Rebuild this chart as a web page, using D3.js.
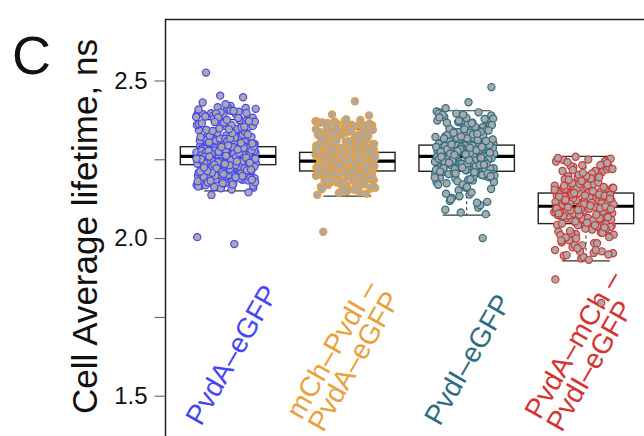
<!DOCTYPE html>
<html>
<head>
<meta charset="utf-8">
<script src="https://cdn.jsdelivr.net/npm/d3@7"></script>
<style>
  body { margin: 0; background: #fff; }
  svg { display: block; }
  text { font-family: "Liberation Sans", Arial, sans-serif; }
</style>
</head>
<body>
<svg id="chart" width="644" height="436"></svg>
<script>
// ---- data -------------------------------------------------------------
const categories = ["PvdA-eGFP", "mCh-PvdI-PvdA-eGFP", "PvdI-eGFP", "PvdA-mCh-PvdI-eGFP"];
const labelLines = [
  ["PvdA–eGFP"],
  ["mCh–PvdI –", "PvdA–eGFP"],
  ["PvdI–eGFP"],
  ["PvdA–mCh –", "PvdI–eGFP"]
];
const colors = ["#4646f4", "#eaa03a", "#2c6d82", "#d33434"];

// box summaries (ns)
const q1s      = [2.233, 2.213, 2.212, 2.046];
const medians  = [2.259, 2.244, 2.259, 2.101];
const q3s      = [2.290, 2.272, 2.295, 2.143];
const whiskLo  = [2.150, 2.133, 2.073, 1.928];
const whiskHi  = [2.376, 2.346, 2.404, 2.259];

// per-cell average lifetimes (ns)
const pvdA_eGFP = [
  2.293,2.318,2.301,2.356,2.297,2.334,2.309,2.382,2.295,2.322,2.341,2.305,2.398,2.312,2.291,2.367,2.326,2.303,2.349,2.415,2.299,2.331,2.314,2.372,
  2.307,2.292,2.345,2.338,2.321,2.406,2.296,2.361,2.316,2.389,2.302,2.327,2.352,2.294,2.311,2.378,2.336,2.298,2.419,2.324,2.306,2.363,2.343,2.393,
  2.262,2.275,2.268,2.284,2.260,2.279,2.271,2.288,2.265,2.277,2.263,2.282,2.270,2.286,2.267,2.274,2.261,2.289,2.273,2.266,2.281,2.269,2.278,2.264,
  2.285,2.272,2.276,2.283,2.262,2.280,2.267,2.287,2.270,2.274,2.264,2.279,2.268,2.283,2.261,2.276,2.272,2.288,2.266,2.281,2.263,2.277,2.285,2.269,
  2.241,2.252,2.236,2.247,2.257,2.239,2.250,2.244,2.255,2.234,2.248,2.242,2.253,2.237,2.246,2.258,2.240,2.251,2.235,2.249,2.243,2.256,2.238,2.245,
  2.254,2.241,2.250,2.236,2.247,2.257,2.239,2.252,2.244,2.234,2.255,2.248,2.242,2.253,2.237,2.246,2.258,2.240,2.251,2.235,2.249,2.243,2.256,2.238,
  2.221,2.187,2.229,2.204,2.166,2.215,2.193,2.226,2.176,2.209,2.231,2.158,2.198,2.219,2.183,2.224,2.202,2.171,2.212,2.228,2.190,2.154,2.217,2.196,
  2.207,2.179,2.223,2.162,2.213,2.200,2.230,2.185,2.211,2.168,2.225,2.194,2.205,2.174,2.218,2.227,2.188,2.160,2.214,2.201,2.222,2.181,2.208,2.232,
  2.246,2.271,2.238,2.259,2.283,2.227,2.252,2.266,2.241,2.290,2.234,2.262,2.249,2.278,2.230,2.257,2.273,2.244,2.286,2.236,
  2.255,2.268,2.240,2.280,2.250,2.264,2.232,2.276,2.247,2.260,2.288,2.238,2.253,2.270,2.243,2.282,2.229,2.258,2.267,2.245,
  2.384,2.172,2.331,2.205,2.297,2.248,2.401,2.186,2.356,2.219,2.312,2.263,2.377,2.164,2.339,2.228,2.285,2.407,2.195,2.323,
  2.241,2.369,2.178,2.304,2.255,2.391,2.211,2.346,2.233,2.279,2.412,2.168,2.328,2.201,2.359,2.268,2.396,2.183,2.315,2.246,
  2.374,2.222,2.291,2.404,2.176,2.337,2.209,2.362,2.257,2.388,2.191,2.308,2.237,2.351,2.274,2.410,2.170,2.325,2.215,2.366,
  2.250,2.381,2.199,2.300,2.231,2.343,2.286,2.399,2.180,2.319,2.207,2.371,2.261,2.393,2.189,2.334,2.226,2.358,2.277,2.413,
  2.174,2.310,2.243,2.379,2.217,2.294,2.386,2.197,2.348,2.252,2.403,2.182,2.329,2.235,2.364,2.270,2.395,2.166,2.316,2.213,
  2.353,2.289,2.408,2.193,2.340,2.239,2.375,2.224,2.302,2.383,2.177,2.333,2.259,2.397,2.203,2.321,2.281,2.368,2.185,2.345,
  2.525,2.447,2.452,2.003,1.981,2.137,2.145,2.425,2.430
];
const mCh_PvdI_PvdA_eGFP = [
  2.275,2.301,2.283,2.338,2.279,2.312,2.290,2.356,2.277,2.296,2.324,2.286,2.368,2.293,2.274,2.345,2.305,2.281,2.330,2.362,2.278,2.309,2.288,
  2.349,2.284,2.273,2.318,2.298,2.341,2.276,2.315,2.292,2.334,2.280,2.303,2.327,2.287,2.352,2.295,2.276,2.321,2.299,2.282,2.342,2.307,
  2.247,2.259,2.251,2.266,2.245,2.262,2.254,2.270,2.249,2.257,2.246,2.264,2.253,2.268,2.250,2.256,2.244,2.271,2.255,2.248,2.263,2.252,2.260,
  2.246,2.267,2.254,2.258,2.265,2.245,2.261,2.249,2.269,2.252,2.256,2.247,2.262,2.251,2.265,2.244,2.258,2.254,2.270,2.248,2.263,2.250,
  2.221,2.236,2.215,2.229,2.241,2.218,2.232,2.225,2.239,2.214,2.227,2.220,2.235,2.216,2.230,2.243,2.219,2.233,2.214,2.228,2.222,2.240,2.217,
  2.226,2.237,2.221,2.231,2.215,2.228,2.242,2.218,2.234,2.224,2.213,2.238,2.229,2.220,2.236,2.216,2.227,2.242,2.219,2.232,2.214,2.225,
  2.205,2.171,2.210,2.188,2.149,2.199,2.176,2.207,2.160,2.193,2.211,2.141,2.182,2.202,2.166,2.208,2.186,2.154,2.196,2.209,2.173,2.137,2.201,
  2.179,2.190,2.162,2.206,2.145,2.197,2.184,2.212,2.168,2.194,2.151,2.204,2.177,2.189,2.157,2.200,2.208,2.170,2.143,2.198,2.185,2.203,
  2.231,2.256,2.222,2.244,2.266,2.213,2.238,2.250,2.226,2.270,2.218,2.247,2.234,2.261,2.215,2.242,2.257,2.229,
  2.268,2.220,2.240,2.253,2.224,2.263,2.236,2.249,2.217,2.259,2.233,2.245,2.271,2.223,2.239,2.254,2.228,
  2.352,2.158,2.311,2.196,2.281,2.237,2.365,2.171,2.327,2.209,2.296,2.252,2.343,2.149,2.318,2.221,2.268,2.371,2.184,2.304,
  2.232,2.339,2.163,2.289,2.246,2.358,2.201,2.322,2.226,2.263,2.369,2.153,2.308,2.192,2.334,2.257,2.361,2.176,2.299,2.241,
  2.347,2.214,2.276,2.366,2.166,2.315,2.199,2.337,2.249,2.355,2.181,2.293,2.229,2.330,2.266,2.372,2.155,2.307,2.206,2.344,
  2.243,2.350,2.188,2.285,2.224,2.326,2.272,2.363,2.168,2.302,2.197,2.341,2.254,2.359,2.179,2.313,2.218,2.336,2.261,2.370,
  2.161,2.291,2.234,2.348,2.204,2.279,2.354,2.186,2.324,2.245,2.367,2.173,2.309,2.227,2.340,2.259,2.357,2.151,2.297,2.202,
  2.332,2.270,2.364,2.183,2.319,2.231,2.345,2.211,2.287,2.351,2.165,2.316,2.248,2.360,2.194,2.305,2.265,2.338,2.175,2.328,
  2.434,2.392,2.389,2.377,2.020,2.375
];
const pvdI_eGFP = [
  2.298,2.331,2.306,2.362,2.301,2.345,2.314,2.389,2.297,2.323,2.352,2.309,2.402,2.318,2.296,2.371,2.328,2.303,2.340,2.395,
  2.300,2.335,2.312,2.378,2.305,2.299,2.349,2.326,2.358,2.316,2.384,2.302,2.337,2.321,2.366,2.308,2.343,2.297,2.398,2.319,
  2.263,2.281,2.270,2.291,2.261,2.285,2.274,2.294,2.266,2.279,2.262,2.288,2.272,2.293,2.268,2.277,2.260,2.290,2.275,2.265,
  2.283,2.271,2.286,2.264,2.292,2.276,2.280,2.289,2.262,2.284,2.269,2.294,2.273,2.278,2.266,2.287,2.270,2.282,2.261,2.290,
  2.221,2.246,2.230,2.255,2.215,2.238,2.251,2.226,2.242,2.218,2.234,2.257,2.223,2.249,2.213,2.236,2.253,2.228,2.244,2.219,
  2.240,2.258,2.225,2.232,2.250,2.216,2.245,2.231,2.256,2.222,2.239,2.248,2.214,2.235,2.252,2.227,2.243,2.220,2.237,2.254,
  2.201,2.152,2.207,2.183,2.118,2.196,2.165,2.209,2.097,2.189,2.204,2.138,2.174,2.199,2.081,2.186,2.206,2.127,2.193,2.160,
  2.210,2.104,2.180,2.198,2.145,2.203,2.076,2.170,2.191,2.112,2.208,2.156,2.185,2.090,2.200,2.133,2.178,2.195,2.123,2.205,
  2.352,2.214,2.301,2.262,2.379,2.187,2.327,2.243,2.284,2.395,2.228,2.339,2.271,2.162,2.316,2.255,2.368,2.203,2.293,2.348,
  2.236,2.387,2.274,2.311,2.219,2.359,2.248,2.141,2.325,2.282,2.373,2.209,2.297,2.341,2.266,2.391,2.232,2.318,2.178,2.356,
  2.251,2.306,2.224,2.383,2.279,2.334,2.196,2.362,2.241,2.289,2.372,2.217,2.329,2.268,2.115,2.345,2.258,2.399,2.205,2.313,
  2.287,2.366,2.233,2.322,2.169,2.353,2.246,2.295,2.381,2.222,2.337,2.276,2.192,2.364,2.239,2.308,2.391,2.211,2.331,2.264,
  2.479,2.431,2.412,2.000
];
const pvdA_mCh_PvdI_eGFP = [
  2.148,2.196,2.157,2.231,2.151,2.178,2.164,2.252,2.146,2.187,2.209,2.155,2.243,2.170,2.145,2.218,2.182,2.150,
  2.201,2.258,2.160,2.191,2.168,2.236,2.153,2.147,2.213,2.174,2.225,2.162,2.248,2.149,2.193,2.166,2.205,
  2.105,2.128,2.114,2.139,2.103,2.132,2.119,2.142,2.108,2.124,2.102,2.136,2.116,2.141,2.111,2.122,2.104,2.138,
  2.120,2.107,2.130,2.113,2.134,2.106,2.140,2.118,2.126,2.137,2.103,2.131,2.110,2.143,2.115,2.125,2.109,
  2.058,2.087,2.069,2.097,2.050,2.079,2.093,2.063,2.084,2.053,2.073,2.099,2.060,2.090,2.047,2.076,2.095,2.066,
  2.082,2.055,2.071,2.100,2.061,2.086,2.049,2.078,2.092,2.064,2.081,2.052,2.074,2.096,2.057,2.088,2.068,
  2.038,1.987,2.043,2.012,1.952,2.031,1.998,2.044,1.935,2.021,2.040,1.971,2.006,2.034,1.944,2.018,2.041,1.962,
  2.027,1.993,2.045,1.940,2.009,2.036,1.978,2.039,1.931,2.002,2.025,1.957,2.042,1.984,2.015,1.948,2.030,
  2.213,2.062,2.157,2.011,2.189,2.098,2.244,1.977,2.131,2.074,2.226,2.035,2.168,2.117,1.958,2.201,2.085,2.149,2.023,2.238,
  2.107,1.992,2.176,2.053,2.219,2.128,1.946,2.162,2.091,2.254,2.041,2.138,2.003,2.197,2.070,2.232,1.968,2.153,2.112,2.185,
  2.029,2.207,2.081,1.984,2.143,2.058,2.249,2.121,2.017,2.172,2.094,1.953,2.229,2.066,2.135,2.046,2.193,1.999,2.159,2.103,
  2.241,2.034,2.181,2.078,1.962,2.216,2.125,2.049,2.166,1.794,2.089,
  1.869
];
const cellValues = [pvdA_eGFP, mCh_PvdI_PvdA_eGFP, pvdI_eGFP, pvdA_mCh_PvdI_eGFP];

const tickValues = [1.5, 1.75, 2.0, 2.25, 2.5];
const tickLabels = ["1.5", "", "2.0", "", "2.5"];

const yTitle = "Cell Average lifetime, ns";
const panelLabel = "C";

// ---- layout -----------------------------------------------------------
const W = 644, H = 436;
const frameLeft = 165.5, frameTop = 19.5;

const svg = d3.select("#chart");

const x = d3.scaleBand()
  .domain(categories)
  .range([168.4, 645.6])
  .paddingInner(0).paddingOuter(0);

const y = d3.scaleLinear()
  .domain([1.5, 2.5])
  .range([395.7, 80.5]);

const bw = x.bandwidth();
const boxW = bw * 0.8;
const capW = boxW * 0.5;
const jitterHalf = 30;

// plot frame (open at the right and bottom where the figure is cropped)
svg.append("path")
  .attr("d", `M${frameLeft},${H + 2} V${frameTop} H${W + 2}`)
  .attr("fill", "none")
  .attr("stroke", "#222")
  .attr("stroke-width", 1.5);

// y axis
const yAxis = d3.axisLeft(y)
  .tickValues(tickValues)
  .tickFormat((d, i) => tickLabels[i])
  .tickSize(11)
  .tickPadding(7);

const gy = svg.append("g")
  .attr("transform", `translate(${frameLeft},0)`)
  .call(yAxis);
gy.select(".domain").remove();
gy.selectAll(".tick line").attr("stroke", "#555").attr("stroke-width", 1);
gy.selectAll(".tick text")
  .attr("fill", "#111")
  .style("font-size", "24px")
  .style("font-family", '"Liberation Sans", Arial, sans-serif');

// axis title
svg.append("text")
  .attr("transform", `translate(97,${226.5}) rotate(-90)`)
  .attr("text-anchor", "middle")
  .attr("fill", "#111")
  .style("font-size", "35px")
  .text(yTitle);

// panel letter
svg.append("text")
  .attr("x", 12)
  .attr("y", 74)
  .attr("fill", "#111")
  .style("font-size", "54px")
  .text(panelLabel);

// category labels, rotated inside the plot
const lineStep = 25;
const perp = [Math.cos(Math.PI / 6), Math.sin(Math.PI / 6)];
categories.forEach((c, i) => {
  const cx = x(c) + bw / 2;
  const lines = labelLines[i];
  const extra = lines.length - 1;
  lines.forEach((ln, k) => {
    const off = (k - extra / 2) * lineStep;
    const bx = cx - 27 - extra * 8 + off * perp[0];
    const by = 427 + off * perp[1];
    svg.append("text")
      .attr("transform", `translate(${bx},${by}) rotate(-60)`)
      .attr("text-anchor", "start")
      .attr("fill", colors[i])
      .style("font-size", "28px")
      .text(ln);
  });
});

// boxes
const boxes = svg.append("g");
categories.forEach((c, i) => {
  const cx = x(c) + bw / 2;
  const g = boxes.append("g");
  // whiskers (dashed)
  g.append("line")
    .attr("x1", cx).attr("x2", cx)
    .attr("y1", y(q3s[i])).attr("y2", y(whiskHi[i]))
    .attr("stroke", "#222").attr("stroke-dasharray", "3,3").attr("stroke-width", 1);
  g.append("line")
    .attr("x1", cx).attr("x2", cx)
    .attr("y1", y(q1s[i])).attr("y2", y(whiskLo[i]))
    .attr("stroke", "#222").attr("stroke-dasharray", "3,3").attr("stroke-width", 1);
  // caps
  [whiskHi[i], whiskLo[i]].forEach(v => {
    g.append("line")
      .attr("x1", cx - capW / 2).attr("x2", cx + capW / 2)
      .attr("y1", y(v)).attr("y2", y(v))
      .attr("stroke", "#333").attr("stroke-width", 1.2);
  });
  // box
  g.append("rect")
    .attr("x", cx - boxW / 2)
    .attr("y", y(q3s[i]))
    .attr("width", boxW)
    .attr("height", y(q1s[i]) - y(q3s[i]))
    .attr("fill", "#fff")
    .attr("stroke", "#222")
    .attr("stroke-width", 1.4);
  // median
  g.append("line")
    .attr("x1", cx - boxW / 2).attr("x2", cx + boxW / 2)
    .attr("y1", y(medians[i])).attr("y2", y(medians[i]))
    .attr("stroke", "#000").attr("stroke-width", 3.2);
});

// jittered cells (deterministic golden-ratio spread across the box)
const PHI = 0.6180339887;
const pts = svg.append("g");
categories.forEach((c, i) => {
  const cx = x(c) + bw / 2 - 2;
  pts.append("g")
    .selectAll("circle")
    .data(cellValues[i])
    .join("circle")
    .attr("cx", (d, k) => cx + ((((k + 1) * PHI) % 1) - 0.5) * 2 * jitterHalf)
    .attr("cy", d => y(d))
    .attr("r", 3.6)
    .attr("fill", "#a9a9a9")
    .attr("stroke", colors[i])
    .attr("stroke-width", 1.2);
});
</script>
</body>
</html>
